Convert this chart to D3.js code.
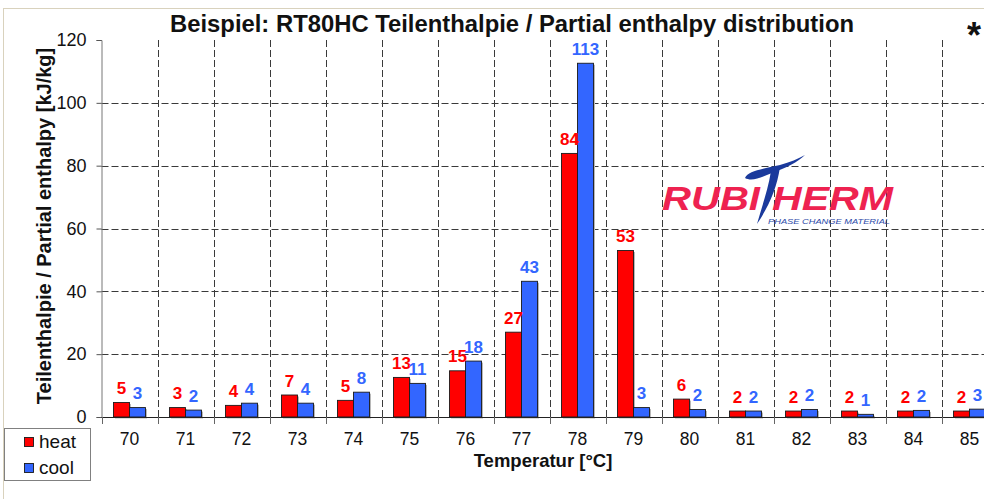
<!DOCTYPE html>
<html>
<head>
<meta charset="utf-8">
<script src="https://cdn.jsdelivr.net/npm/d3@7"></script>
<style>
  html, body { margin: 0; padding: 0; background: #fff; }
  svg { display: block; }
  text { font-family: "Liberation Sans", Arial, sans-serif; }
</style>
</head>
<body>
<svg id="chart" width="984" height="499"></svg>
<script>
// ---- data ----
const categories = ["70","71","72","73","74","75","76","77","78","79","80","81","82","83","84","85"];
const heatValues = [4.6, 3.0, 3.7, 7.0, 5.3, 12.6, 14.7, 27.0, 83.9, 53.0, 5.7, 1.9, 1.9, 1.9, 1.9, 1.9];
const coolValues = [3.0, 2.2, 4.4, 4.4, 7.9, 10.7, 17.8, 43.2, 112.6, 3.0, 2.4, 1.9, 2.4, 0.85, 2.1, 2.5];
const seriesNames = ["heat", "cool"];
const yTicks = [0, 20, 40, 60, 80, 100, 120];
const titleText = "Beispiel: RT80HC Teilenthalpie / Partial enthalpy distribution";
const xTitle = "Temperatur [°C]";
const yTitle = "Teilenthalpie / Partial enthalpy [kJ/kg]";

const colors = { heat: "#FF0000", cool: "#3366FF" };
const labelColors = { heat: "#FF0000", cool: "#3366FF" };

const svg = d3.select("#chart");
svg.append("rect").attr("width", 984).attr("height", 499).attr("fill", "#fff");
// outer chart border
svg.append("rect").attr("x", 3.5).attr("y", 8.5).attr("width", 1100).attr("height", 600)
  .attr("fill", "none").attr("stroke", "#d9d2bd").attr("stroke-width", 1);

const plot = { left: 101.5, right: 997.5, top: 40, bottom: 417 };

const x = d3.scaleBand().domain(categories).range([plot.left, plot.right]).padding(0);
const x1 = d3.scaleBand().domain(seriesNames).range([12, 44]).padding(0);
const y = d3.scaleLinear().domain([0, 120]).range([plot.bottom, plot.top]);

const table = categories.map((c, i) => ({ cat: c, heat: heatValues[i], cool: coolValues[i] }));

// horizontal grid lines
svg.append("g").selectAll("line").data(yTicks.filter(t => t > 0 && t < 120)).join("line")
  .attr("x1", plot.left).attr("x2", plot.right)
  .attr("y1", d => Math.round(y(d)) + 0.5).attr("y2", d => Math.round(y(d)) + 0.5)
  .attr("stroke", "#3a3a3a").attr("stroke-width", 1).attr("stroke-dasharray", "7,3");

// vertical grid lines at category boundaries
const bounds = categories.slice(1).map(c => x(c));
svg.append("g").selectAll("line").data(bounds).join("line")
  .attr("x1", d => Math.round(d) + 0.5).attr("x2", d => Math.round(d) + 0.5)
  .attr("y1", plot.top).attr("y2", plot.bottom)
  .attr("stroke", "#3a3a3a").attr("stroke-width", 1).attr("stroke-dasharray", "7,3");

// bars
const groups = svg.append("g").selectAll("g").data(table).join("g")
  .attr("transform", d => `translate(${x(d.cat)},0)`);
groups.selectAll("rect.shadow").data(d => seriesNames.map(k => ({ key: k, value: d[k] }))).join("rect")
  .attr("class", "shadow")
  .attr("x", d => x1(d.key) + 1.5).attr("y", d => y(d.value) + 1.5)
  .attr("width", x1.bandwidth()).attr("height", d => y(0) - y(d.value))
  .attr("fill", "#b8b8b8");
groups.selectAll("rect.bar").data(d => seriesNames.map(k => ({ key: k, value: d[k] }))).join("rect")
  .attr("class", "bar")
  .attr("x", d => x1(d.key)).attr("y", d => y(d.value))
  .attr("width", x1.bandwidth()).attr("height", d => y(0) - y(d.value))
  .attr("fill", d => colors[d.key]).attr("stroke", "#1a1a1a").attr("stroke-width", 0.9);

// value labels
groups.selectAll("text").data(d => seriesNames.map(k => ({ key: k, value: d[k] }))).join("text")
  .attr("x", d => x1(d.key) + x1.bandwidth() / 2)
  .attr("y", d => y(d.value) - 8.5)
  .attr("text-anchor", "middle")
  .attr("font-weight", "bold").attr("font-size", 17)
  .attr("fill", d => labelColors[d.key])
  .text(d => Math.round(d.value));

// y axis
const yAxis = d3.axisLeft(y).tickValues(yTicks).tickSize(5).tickPadding(10).tickFormat(d3.format("d"));
const gy = svg.append("g").attr("transform", `translate(${plot.left},0)`).call(yAxis);
gy.select(".domain").attr("stroke", "#777");
gy.selectAll(".tick line").attr("stroke", "#555");
gy.selectAll(".tick text").attr("font-size", 18).attr("fill", "#111")
  .attr("font-family", "Liberation Sans, Arial, sans-serif");

// x axis
svg.append("line").attr("x1", plot.left).attr("x2", plot.right)
  .attr("y1", plot.bottom + 0.5).attr("y2", plot.bottom + 0.5).attr("stroke", "#222").attr("stroke-width", 1.2);
svg.append("g").selectAll("line").data(categories.map(c => x(c))).join("line")
  .attr("x1", d => Math.round(d) + 0.5).attr("x2", d => Math.round(d) + 0.5)
  .attr("y1", plot.bottom).attr("y2", plot.bottom + 7)
  .attr("stroke", "#666").attr("stroke-width", 1);
svg.append("g").selectAll("text").data(categories).join("text")
  .attr("x", d => x(d) + x.bandwidth() / 2).attr("y", 445)
  .attr("text-anchor", "middle").attr("font-size", 17.5).attr("fill", "#111")
  .text(d => d);

// titles
svg.append("text").attr("x", 512).attr("y", 32).attr("text-anchor", "middle")
  .attr("font-weight", "bold").attr("font-size", 23.5).attr("fill", "#111")
  .attr("textLength", 684).attr("lengthAdjust", "spacingAndGlyphs")
  .text(titleText);
svg.append("text").attr("x", 543).attr("y", 467).attr("text-anchor", "middle")
  .attr("font-weight", "bold").attr("font-size", 18.5).attr("fill", "#111")
  .text(xTitle);
svg.append("text").attr("transform", "translate(51,226) rotate(-90)").attr("text-anchor", "middle")
  .attr("font-weight", "bold").attr("font-size", 20).attr("fill", "#111")
  .text(yTitle);
svg.append("text").attr("x", 974).attr("y", 48).attr("text-anchor", "middle")
  .attr("font-weight", "bold").attr("font-size", 36).attr("fill", "#111").text("*");

// legend
const lg = svg.append("g");
lg.append("rect").attr("x", 4.5).attr("y", 428.5).attr("width", 86).attr("height", 52)
  .attr("fill", "#fff").attr("stroke", "#808080").attr("stroke-width", 1);
seriesNames.forEach((k, i) => {
  lg.append("rect").attr("x", 24.5).attr("y", 437.5 + i * 26).attr("width", 9).attr("height", 9)
    .attr("fill", colors[k]).attr("stroke", "#1a1a1a").attr("stroke-width", 0.9);
  lg.append("text").attr("x", 39).attr("y", 447.5 + i * 26).attr("font-size", 19).attr("fill", "#111").text(k);
});

// logo (decorative)
const logo = svg.append("g");
logo.append("text").attr("x", 662).attr("y", 210)
  .attr("font-family", "Liberation Serif, Times New Roman, serif").attr("font-weight", "bold").attr("font-style", "italic")
  .attr("font-size", 33).attr("fill", "#EE2250").attr("textLength", 98).attr("lengthAdjust", "spacingAndGlyphs")
  .text("RUBI");
logo.append("text").attr("x", 772).attr("y", 210)
  .attr("font-family", "Liberation Serif, Times New Roman, serif").attr("font-weight", "bold").attr("font-style", "italic")
  .attr("font-size", 33).attr("fill", "#EE2250").attr("textLength", 121).attr("lengthAdjust", "spacingAndGlyphs")
  .text("HERM");
logo.append("path")
  .attr("d", "M745,178 C748,171 762,169 780,165 C790,162 798,159 805,155 C798,162 786,168 772,173 C762,177 752,182 745,178 Z")
  .attr("fill", "#1b3a9c");
logo.append("path")
  .attr("d", "M771,171 L780,167 C777,188 769,206 757,224 C762,206 768,190 771,171 Z")
  .attr("fill", "#1b3a9c");
logo.append("text").attr("x", 768).attr("y", 224)
  .attr("font-style", "italic").attr("font-size", 7.5).attr("fill", "#2a48a8")
  .attr("textLength", 122).attr("lengthAdjust", "spacingAndGlyphs")
  .text("PHASE CHANGE MATERIAL");
</script>
</body>
</html>
